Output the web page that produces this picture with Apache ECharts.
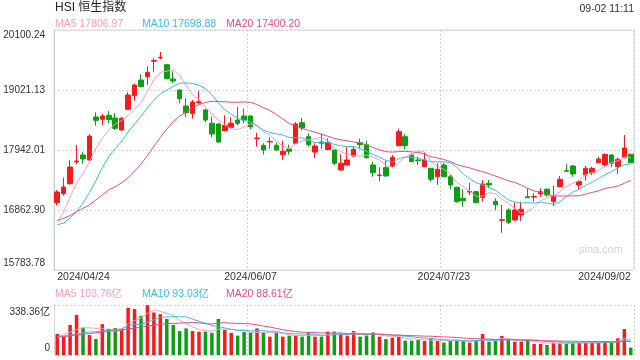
<!DOCTYPE html>
<html><head><meta charset="utf-8">
<script src="https://cdn.jsdelivr.net/npm/echarts@6/dist/echarts.min.js"></script>
<style>html,body{margin:0;padding:0;background:#fff}#c{width:640px;height:360px}</style>
</head><body><div id="c"></div>
<script>
const dates = ['2024/04/24','2024/04/25','2024/04/26','2024/04/29','2024/04/30',
'2024/05/02','2024/05/03','2024/05/06','2024/05/07','2024/05/08','2024/05/09','2024/05/10','2024/05/13','2024/05/14','2024/05/16','2024/05/17','2024/05/20','2024/05/21','2024/05/22','2024/05/23','2024/05/24','2024/05/27','2024/05/28','2024/05/29','2024/05/30','2024/05/31',
'2024/06/03','2024/06/04','2024/06/05','2024/06/06','2024/06/07','2024/06/11','2024/06/12','2024/06/13','2024/06/14','2024/06/17','2024/06/18','2024/06/19','2024/06/20','2024/06/21','2024/06/24','2024/06/25','2024/06/26','2024/06/27','2024/06/28',
'2024/07/02','2024/07/03','2024/07/04','2024/07/05','2024/07/08','2024/07/09','2024/07/10','2024/07/11','2024/07/12','2024/07/15','2024/07/16','2024/07/17','2024/07/18','2024/07/19','2024/07/22','2024/07/23','2024/07/24','2024/07/25','2024/07/26','2024/07/29','2024/07/30','2024/07/31',
'2024/08/01','2024/08/02','2024/08/05','2024/08/06','2024/08/07','2024/08/08','2024/08/09','2024/08/12','2024/08/13','2024/08/14','2024/08/15','2024/08/16','2024/08/19','2024/08/20','2024/08/21','2024/08/22','2024/08/23','2024/08/26','2024/08/27','2024/08/28','2024/08/29','2024/08/30',
'2024/09/02'];

const opens = [16997.8,17156.1,17336.0,17726.2,17852.1,17762.2,18535.6,18494.2,18566.1,18517.6,
18301.8,18674.0,18918.6,19201.0,19260.4,19539.1,19596.7,19476.2,19219.0,19021.2,
18733.4,18602.1,18796.3,18661.5,18422.3,18409.7,18289.2,18350.3,18481.6,18553.5,
18553.5,18147.1,18026.6,18085.9,18026.6,17857.5,17960.0,18062.5,18433.0,18181.3,
17906.1,18085.9,17951.0,17942.0,17582.4,17672.3,17834.1,18073.3,18037.4,17672.3,
17481.6,17623.7,17654.3,18019.4,18181.3,17852.1,17762.2,17641.7,17612.9,17461.9,
17672.3,17461.9,17271.2,17073.4,17186.7,17192.1,17091.4,17343.2,17019.4,16677.7,
16863.0,16683.1,16773.0,17102.2,17096.8,17150.7,17235.2,17012.2,17282.0,17569.8,
17654.3,17312.6,17492.4,17533.8,17713.6,17672.3,17852.1,17641.7,17810.8,17866.5];
const closes = [17186.7,17276.6,17636.3,17744.2,17780.2,18193.8,18476.2,18553.5,18487.0,18332.3,
18512.2,18931.2,19111.1,19080.5,19339.5,19551.7,19607.5,19224.4,19183.0,18864.7,
18612.9,18805.3,18808.9,18481.6,18229.8,18085.9,18386.3,18422.3,18422.3,18481.6,
18361.1,18157.9,17942.0,18096.7,17942.0,17918.7,17918.7,18409.7,18337.7,18037.4,
18014.0,18062.5,18080.5,17702.9,17702.9,17762.2,17954.6,18037.4,17803.6,17533.8,
17492.4,17474.4,17810.8,18271.2,18019.4,17731.6,17751.4,17762.2,17415.1,17594.9,
17461.9,17312.6,17012.2,17030.2,17197.5,16994.2,17330.6,17312.6,16958.3,16688.5,
16641.7,16863.0,16875.5,17084.2,17107.5,17192.1,17132.7,17102.2,17415.1,17559.0,
17510.4,17372.0,17612.9,17612.9,17780.2,17864.7,17702.9,17774.8,17978.0,17713.6];
const lows = [16943.9,17120.1,17320.0,17690.3,17695.7,17744.2,18379.1,18391.7,18422.3,18301.8,
18283.8,18661.5,18828.7,19069.7,19116.5,19350.3,19573.3,19213.6,19141.6,18782.0,
18530.2,18505.0,18769.4,18445.6,18170.5,18073.3,18280.0,18325.1,18386.3,18422.3,
18314.3,18001.4,17857.5,17965.4,17929.5,17762.2,17857.5,18050.0,18289.2,18001.4,
17798.2,17960.0,17936.7,17672.3,17575.0,17665.0,17810.8,17954.6,17792.8,17461.9,
17379.1,17461.9,17630.9,18010.0,17954.6,17725.0,17672.3,17630.9,17371.9,17312.6,
17451.1,17235.2,16994.2,16922.3,17132.7,16983.4,17012.2,17253.2,16863.0,16454.7,
16611.2,16670.5,16670.5,17080.0,17012.2,17102.2,17102.2,16934.9,17271.2,17551.8,
17461.9,17235.2,17389.9,17492.4,17705.0,17630.9,17630.9,17510.4,17792.8,17702.9];
const highs = [17222.7,17443.9,17756.8,18032.0,17900.7,18224.4,18620.1,18589.5,18643.5,18607.5,
18541.0,18979.8,19134.5,19303.5,19447.4,19591.3,19704.6,19488.8,19357.5,19033.7,
18871.9,18841.3,19003.2,18684.8,18541.0,18422.3,18566.1,18530.2,18720.8,18684.8,
18566.1,18253.2,18062.5,18170.5,18073.3,18109.3,18037.4,18445.6,18517.6,18242.4,
18062.5,18235.2,18152.5,17950.0,17864.7,17990.6,18001.4,18145.3,18109.3,17731.6,
17630.9,17749.6,17852.1,18325.1,18229.8,17882.7,17821.6,17893.5,17620.0,17702.9,
17713.6,17492.4,17282.0,17235.2,17353.9,17210.1,17402.5,17402.5,17073.4,16952.9,
16893.5,16994.2,17012.2,17253.2,17163.3,17253.2,17253.2,17294.6,17474.4,17684.9,
17672.3,17402.5,17654.3,17641.7,17821.6,17882.7,17870.1,17803.6,18211.8,17870.1];

const ma5 = [16650,16830,17100,17345,17524.8,17726.2,17966.0,18149.6,18298.2,18408.6,
18472.2,18563.2,18674.6,18793.4,18995.0,19203.0,19338.4,19361.0,19381.4,19286.4,
19098.6,18938.0,18855.0,18714.8,18587.8,18482.4,18398.6,18321.2,18309.2,18359.6,
18414.6,18369.0,18273.0,18208.0,18100.0,18011.6,17963.8,18057.4,18105.6,18124.6,
18143.6,18172.4,18106.6,17979.6,17912.8,17862.4,17840.8,17832.0,17852.2,17818.4,
17764.4,17668.2,17623.0,17716.4,17813.4,17861.4,17916.8,17907.0,17735.8,17651.0,
17597.0,17509.4,17359.4,17282.4,17203.0,17109.4,17113.0,17173.2,17158.8,17057.0,
16986.6,16893.0,16805.6,16830.8,16914.6,17024.6,17078.6,17123.8,17190.0,17280.2,
17343.8,17391.6,17493.8,17533.4,17577.6,17648.6,17714.8,17747.2,17815.8,17802.6];
const ma10 = [16600,16626,16719,16833,16985,17180,17389,17625,17821,17966.7,
18099.2,18264.6,18412.1,18545.8,18701.8,18837.6,18950.8,19017.8,19087.4,19140.7,
19150.8,19138.2,19108.0,19048.1,18937.1,18790.5,18668.3,18588.1,18512.0,18473.7,
18448.5,18383.8,18297.1,18258.6,18229.8,18213.1,18166.4,18165.2,18156.8,18112.3,
18077.6,18068.1,18082.0,18042.6,18018.7,18003.0,18006.6,17969.3,17915.9,17865.6,
17813.4,17754.5,17727.5,17784.3,17815.9,17812.9,17792.5,17765.0,17726.1,17732.2,
17729.2,17713.1,17633.2,17509.1,17427.0,17353.2,17311.2,17266.3,17220.6,17130.0,
17048.0,17003.0,16989.4,16994.8,16985.8,17005.6,16985.8,16964.7,17010.4,17097.4,
17184.2,17235.1,17308.8,17361.7,17428.9,17496.2,17553.2,17620.5,17676.8,17692.3];
const ma20 = [16672,16713,16764,16831,16893,16956,17044,17136,17223,17283,
17352,17444,17563,17687,17842,18007,18168,18318,18452,18553.7,
18625.0,18701.4,18760.1,18797.0,18819.5,18814.1,18809.6,18803.0,18799.7,18807.2,
18799.7,18761.0,18702.6,18653.4,18583.5,18501.8,18417.4,18376.7,18334.4,18293.0,
18263.1,18226.0,18189.6,18150.6,18124.3,18108.1,18086.5,18067.3,18036.4,17988.9,
17945.5,17911.3,17904.8,17913.5,17917.3,17908.0,17899.6,17867.2,17821.0,17798.9,
17771.3,17733.8,17680.4,17646.7,17621.5,17583.1,17551.9,17515.7,17473.4,17431.1,
17388.6,17358.1,17311.3,17252.0,17206.4,17179.4,17148.5,17115.5,17115.5,17113.7,
17116.1,17119.1,17149.1,17178.3,17207.4,17250.9,17269.5,17292.6,17343.6,17394.9];

const volumes = [142,124,203,271,185,135,108,209,177,182,
174,320,311,265,338,288,276,244,203,162,
180,162,158,158,150,244,169,150,131,156,
153,180,153,124,151,124,131,131,124,153,
124,124,158,158,147,131,162,124,132,153,
124,108,117,124,97,97,102,95,113,95,
84,95,102,95,84,102,142,90,95,129,
102,90,90,102,74,74,68,84,84,79,
84,84,84,90,84,95,84,113,176,50];
const vma5 = [125,135,155,172,185,183.6,180.4,181.6,162.8,162.2,
170,212.4,232.8,250.4,281.6,304.4,295.6,282.2,269.8,234.6,
213,190.2,173,164,161.6,174.4,175.8,174.2,168.8,170,
151.8,154,154.6,153.2,152.2,146.4,136.6,132.2,132.2,132.6,
132.6,131.2,136.6,143.4,142.2,143.6,151.2,144.4,139.2,140.4,
139,128.2,126.8,125.2,114,108.6,107.4,103,100.8,100.4,
97.8,96.4,97.8,94.2,92,95.6,105,102.6,102.6,111.6,
111.6,101.2,101.2,102.6,91.6,86,81.6,80.4,76.8,77.8,
79.8,83,83,84.2,85.2,87.4,87.4,93.2,110.4,103.6];
const vma10 = [125,128,135,145,150,155,158,162,168,173.6,
176.8,196.4,207.2,206.6,221.9,237.2,254,257.5,260.1,258.1,
258.7,242.9,227.6,216.9,198.1,193.7,183,173.6,166.4,165.8,
163.1,164.9,164.4,161,161.1,149.1,145.3,143.4,142.7,142.4,
139.5,133.9,134.4,137.8,137.4,138.1,141.2,140.5,141.3,141.3,
141.3,139.7,135.6,132.2,127.2,123.8,117.8,114.9,113,107.2,
103.2,101.9,100.4,97.5,96.2,96.7,100.7,100.2,98.4,101.8,
103.6,103.1,101.9,102.6,101.6,98.8,91.4,90.8,89.7,84.7,
82.9,82.3,81.7,80.5,81.5,83.6,85.2,88.1,97.3,94.4];
const vma20 = [120,124,130,136,140,145,150,155,160,165,
170,176,182,188,195,202,208,212,214,215.9,
217.8,219.7,217.4,211.8,210,215.5,218.5,215.6,213.3,212,
210.9,203.9,196,189,179.6,171.4,164.2,158.5,154.6,154.1,
151.3,149.4,149.4,149.4,149.3,143.6,143.3,142,142,141.9,
140.4,136.8,135,135,132.3,131,129.5,127.7,127.2,124.3,
122.3,120.8,118,114.9,111.7,110.3,109.3,107.6,105.7,104.5,
103.4,102.5,101.2,100.1,98.9,97.8,96.1,95.5,94.1,93.3,
93.3,92.7,91.8,91.6,91.6,91.2,88.3,89.5,93.5,89.6];

const yTicks = [15783.78, 16862.90, 17942.01, 19021.13, 20100.24];
const yTickLabels = ['15783.78','16862.90','17942.01','19021.13','20100.24'];
const volTicks = [0, 338.36];
const volTickLabels = ['0','338.36亿'];
const xLabelIdx = [0, 30, 60, 89];
const xSplitIdx = [30, 60];
const titleText = 'HSI 恒生指数';
const timeText = '09-02 11:11';
const priceMaLabels = ['MA5 17806.97','MA10 17698.88','MA20 17400.20'];
const volMaLabels = ['MA5 103.76亿','MA10 93.03亿','MA20 88.61亿'];
const watermark = 'sina.com';

const UP = '#f51b1b', DOWN = '#0e9e14';
const C5 = '#fb9cc0', C10 = '#35c0e0', C20 = '#ea4a80';
const FONT = '"Liberation Sans", Arial, "Noto Sans CJK SC", sans-serif';

function nearestIdx(arr, v){let k=0,b=Infinity;arr.forEach((t,i)=>{const d=Math.abs(t-v);if(d<b){b=d;k=i;}});return k;}

const kData = dates.map((d,i)=>[opens[i], closes[i], lows[i], highs[i]]);
const volData = volumes.map((v,i)=>({value:v, itemStyle:{color: closes[i]>=opens[i]?UP:DOWN}}));

const chart = echarts.init(document.getElementById('c'));
const maColors = [C5, C10, C20];
const legendX = [55, 142, 226];
const graphics = [
  {type:'text', x:55, y:8, style:{text:titleText, font:'12px '+FONT, fill:'#222', verticalAlign:'middle'}},
  {type:'text', x:634, y:9, style:{text:timeText, font:'10.5px '+FONT, fill:'#333', align:'right', verticalAlign:'middle'}},
  {type:'text', x:623, y:250, style:{text:watermark, font:'11px '+FONT, fill:'#d2d2d2', align:'right', verticalAlign:'middle'}}
];
priceMaLabels.forEach((t,i)=>graphics.push({type:'text', x:legendX[i], y:24, style:{text:t, font:'10.5px '+FONT, fill:maColors[i], verticalAlign:'middle'}}));
volMaLabels.forEach((t,i)=>graphics.push({type:'text', x:legendX[i], y:294, style:{text:t, font:'10.5px '+FONT, fill:maColors[i], verticalAlign:'middle'}}));

function lineS(data, color, xi){
  return {type:'line', data, xAxisIndex:xi, yAxisIndex:xi, symbol:'none', showSymbol:false,
    lineStyle:{width:1, color}, itemStyle:{color}, z:5, silent:true};
}

chart.setOption({
  animation:false,
  textStyle:{fontFamily:FONT},
  grid:[
    {left:54, right:6, top:30, height:240, show:true, borderColor:'#d6d6d6', borderWidth:1},
    {left:54, right:6, top:305, height:50}
  ],
  xAxis:[
    {type:'category', data:dates, gridIndex:0, boundaryGap:true,
     axisLine:{show:false}, axisTick:{show:false},
     axisLabel:{show:true, interval:(i)=>xLabelIdx.includes(i), fontSize:10.5, color:'#333', margin:2,
       alignMinLabel:'left', alignMaxLabel:'right'},
     splitLine:{show:true, interval:(i)=>xSplitIdx.includes(i), lineStyle:{type:[2,2], color:'#cfcfcf'}}},
    {type:'category', data:dates, gridIndex:1, boundaryGap:true,
     axisLine:{show:false}, axisTick:{show:false}, axisLabel:{show:false},
     splitLine:{show:true, interval:(i)=>xSplitIdx.includes(i), lineStyle:{type:[2,2], color:'#cfcfcf'}}}
  ],
  yAxis:[
    {type:'value', gridIndex:0, min:yTicks[0], max:yTicks[4], interval:(yTicks[4]-yTicks[0])/4,
     axisLine:{show:true, lineStyle:{color:'#cfcfcf'}}, axisTick:{show:false},
     axisLabel:{fontSize:10, color:'#333', margin:9,
       formatter:(v)=>{const k=nearestIdx(yTicks,v);const s=yTickLabels[k];
         if(k===yTicks.length-1) return '{t|'+s+'}'; if(k===0) return '{b|'+s+'}'; return s;},
       rich:{t:{fontSize:10, color:'#333', padding:[10,0,0,0]}, b:{fontSize:10, color:'#333', padding:[0,0,14,0]}}},
     splitLine:{show:true, lineStyle:{type:[2,2], color:'#d5d5d5'}}},
    {type:'value', gridIndex:1, min:volTicks[0], max:volTicks[1], interval:volTicks[1]-volTicks[0],
     axisLine:{show:true, lineStyle:{color:'#d6d6d6'}}, axisTick:{show:false},
     axisLabel:{fontSize:10, color:'#333', margin:4,
       formatter:(v)=>{const k=nearestIdx(volTicks,v);const s=volTickLabels[k];
         if(k===1) return '{t|'+s+'}'; return '{b|'+s+'}';},
       rich:{t:{fontSize:10, color:'#333', padding:[14,0,0,0]}, b:{fontSize:10, color:'#333', padding:[0,0,14,0]}}},
     splitLine:{show:true, lineStyle:{type:[2,2], color:'#d5d5d5'}}}
  ],
  series:[
    {type:'candlestick', data:kData, xAxisIndex:0, yAxisIndex:0, barWidth:5,
     itemStyle:{color:UP, color0:DOWN, borderColor:UP, borderColor0:DOWN, borderWidth:1}},
    lineS(ma5, C5, 0), lineS(ma10, C10, 0), lineS(ma20, C20, 0),
    {type:'bar', data:volData, xAxisIndex:1, yAxisIndex:1, barWidth:3.5},
    lineS(vma5, C5, 1), lineS(vma10, C10, 1), lineS(vma20, C20, 1)
  ],
  graphic:graphics
});
</script></body></html>
